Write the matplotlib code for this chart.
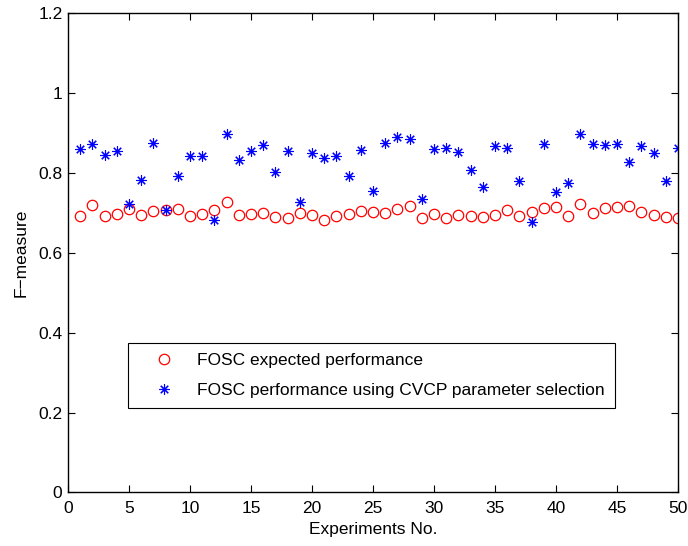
import matplotlib
matplotlib.use('Agg')
import matplotlib.pyplot as plt

experiments = list(range(1, 51))

expected = [0.691, 0.720, 0.692, 0.698, 0.710, 0.694, 0.704, 0.706, 0.709, 0.691,
            0.696, 0.706, 0.728, 0.694, 0.696, 0.699, 0.690, 0.686, 0.699, 0.695,
            0.682, 0.693, 0.697, 0.705, 0.703, 0.699, 0.710, 0.717, 0.686, 0.696,
            0.688, 0.695, 0.692, 0.690, 0.695, 0.707, 0.693, 0.702, 0.711, 0.715,
            0.693, 0.722, 0.700, 0.711, 0.714, 0.716, 0.701, 0.695, 0.690, 0.686]

cvcp = [0.859, 0.872, 0.844, 0.856, 0.722, 0.782, 0.874, 0.706, 0.792, 0.842,
        0.843, 0.682, 0.898, 0.832, 0.854, 0.870, 0.802, 0.854, 0.726, 0.849,
        0.837, 0.843, 0.793, 0.858, 0.755, 0.874, 0.889, 0.885, 0.735, 0.861,
        0.862, 0.853, 0.807, 0.766, 0.868, 0.862, 0.779, 0.678, 0.873, 0.753,
        0.776, 0.898, 0.872, 0.871, 0.873, 0.828, 0.868, 0.851, 0.781, 0.862]

labels = ['FOSC expected performance',
          'FOSC performance using CVCP parameter selection']

plt.rcParams['font.family'] = ['Liberation Sans', 'DejaVu Sans']
plt.rcParams['font.size'] = 12.5

fig = plt.figure(figsize=(6.88, 5.46), dpi=100)
ax = fig.add_axes([68 / 688, 1 - 492.4 / 546, 610 / 688, 479.2 / 546])

ax.plot(experiments, expected, linestyle='none', marker='o', markersize=7.5,
        markerfacecolor='none', markeredgecolor='red', markeredgewidth=0.9, label=labels[0])
ax.plot(experiments, cvcp, linestyle='none', marker=(8, 2, 0), markersize=7.5,
        color='blue', markeredgewidth=0.8, label=labels[1])

ax.set_xlim(0, 50)
ax.set_ylim(0, 1.2)
ax.set_xticks(range(0, 51, 5))
ax.set_yticks([0, 0.2, 0.4, 0.6, 0.8, 1.0, 1.2])
ax.set_yticklabels(['0', '0.2', '0.4', '0.6', '0.8', '1', '1.2'])
ax.tick_params(direction='in', top=True, right=True, length=5, width=0.8)
ax.tick_params(axis='x', pad=6)
ax.tick_params(axis='y', pad=4)
for s in ax.spines.values():
    s.set_linewidth(1.0)

ax.set_xlabel('Experiments No.', labelpad=4.5)
ax.set_ylabel('F\u2212measure', labelpad=7)

# legend box placed like the original (upper left corner near x=8.5, y=0.45)
leg = ax.legend(loc='upper left', bbox_to_anchor=((128 - 68) / 610, (492.4 - 342.7) / 479.2),
                fancybox=False, edgecolor='black', framealpha=1, borderpad=0.6,
                handlelength=3.0, handletextpad=0.35, labelspacing=0.84, borderaxespad=0)
leg.get_frame().set_linewidth(0.8)

fig.savefig('out.png', dpi=100)
